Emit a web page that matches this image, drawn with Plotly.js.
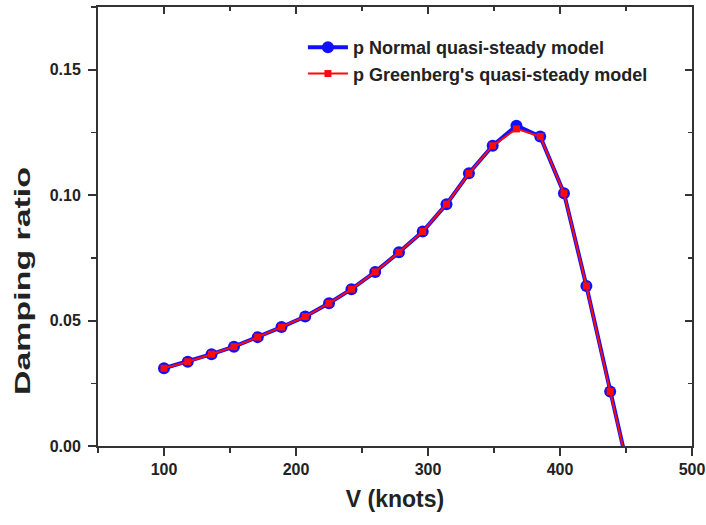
<!DOCTYPE html>
<html>
<head>
<meta charset="utf-8">
<script src="https://cdn.plot.ly/plotly-3.0.1.min.js"></script>
<style>
html,body{margin:0;padding:0;background:#fff;}
#chart{width:706px;height:525px;}
</style>
</head>
<body>
<div id="chart"></div>
<script>
// Speed (knots)
const V = [100, 118, 136, 153, 171, 189, 207, 225, 242, 260, 278, 296, 314, 331, 349, 367, 385, 403, 420, 438, 456];
// Damping ratio, normal quasi-steady model
const normalModel = [0.0310, 0.0336, 0.0366, 0.0396, 0.0434, 0.0474, 0.0516, 0.0569, 0.0625, 0.0694, 0.0772, 0.0855, 0.0964, 0.1087, 0.1197, 0.1277, 0.1234, 0.1008, 0.0638, 0.0217, -0.0194];
// Damping ratio, Greenberg's quasi-steady model
const greenbergModel = [0.0310, 0.0336, 0.0366, 0.0396, 0.0434, 0.0474, 0.0516, 0.0569, 0.0625, 0.0694, 0.0772, 0.0855, 0.0964, 0.1087, 0.1197, 0.1264, 0.1234, 0.1008, 0.0638, 0.0217, -0.0194];
const seriesNames = ["p Normal quasi-steady model", "p Greenberg's quasi-steady model"];
const xTitle = "V (knots)";
const yTitle = "Damping ratio";

const FONT = "Liberation Sans, Arial, sans-serif";
const AX = "#333333";

const traces = [
  {
    x: V, y: normalModel, name: seriesNames[0], type: 'scatter', mode: 'lines+markers',
    xaxis: 'x', yaxis: 'y',
    line: {color: '#1010ff', width: 4},
    marker: {symbol: 'circle', size: 12, color: '#1010ff'},
    legendgroup: 'a'
  },
  {
    x: V, y: greenbergModel, name: seriesNames[1], type: 'scatter', mode: 'lines+markers',
    xaxis: 'x2', yaxis: 'y2',
    line: {color: '#ff0a0a', width: 2},
    marker: {symbol: 'square', size: 7, color: '#ff0a0a'},
    legendgroup: 'b'
  }
];

const tickFont = {family: FONT, size: 16, color: '#222', weight: 'bold'};

const layout = {
  width: 706, height: 525,
  margin: {l: 98, r: 14, t: 7, b: 79},
  paper_bgcolor: '#fff', plot_bgcolor: '#fff',
  showlegend: true,
  legend: {
    x: 0.345, y: 0.95, xanchor: 'left', yanchor: 'top',
    bgcolor: 'rgba(0,0,0,0)', borderwidth: 0,
    font: {family: FONT, size: 18, color: '#222', weight: 'bold'},
    traceorder: 'grouped', tracegroupgap: 0, itemwidth: 40
  },
  xaxis: {
    range: [50, 500], tick0: 0, dtick: 100, fixedrange: true,
    showgrid: false, zeroline: false,
    showline: true, linecolor: AX, linewidth: 2, mirror: true,
    ticks: 'outside', ticklen: 8, tickwidth: 2, tickcolor: AX,
    minor: {ticks: 'outside', dtick: 50, tick0: 0, ticklen: 5, tickwidth: 1.5, tickcolor: AX, showgrid: false},
    tickfont: tickFont,
    title: {text: xTitle, font: {family: FONT, size: 23, color: '#222', weight: 'bold'}, standoff: 14}
  },
  yaxis: {
    range: [0, 0.175], tick0: 0, dtick: 0.05, tickformat: '.2f', fixedrange: true,
    showgrid: false, zeroline: false,
    showline: true, linecolor: AX, linewidth: 2, mirror: true,
    ticks: 'outside', ticklen: 8, tickwidth: 2, tickcolor: AX,
    minor: {ticks: 'outside', dtick: 0.025, tick0: 0, ticklen: 5, tickwidth: 1.5, tickcolor: AX, showgrid: false},
    tickfont: tickFont, ticklabelstandoff: 4,
    title: {text: ''}
  },
  xaxis2: {
    overlaying: 'x', side: 'top', anchor: 'y2',
    range: [50, 500], tick0: 0, dtick: 100, fixedrange: true,
    showgrid: false, zeroline: false, showline: false, showticklabels: false,
    ticks: 'inside', ticklen: 7, tickwidth: 2, tickcolor: AX,
    minor: {ticks: 'inside', dtick: 50, tick0: 0, ticklen: 4, tickwidth: 1.5, tickcolor: AX, showgrid: false}
  },
  yaxis2: {
    overlaying: 'y', side: 'right', anchor: 'x2',
    range: [0, 0.175], tick0: 0, dtick: 0.05, fixedrange: true,
    showgrid: false, zeroline: false, showline: false, showticklabels: false,
    ticks: 'inside', ticklen: 7, tickwidth: 2, tickcolor: AX,
    minor: {ticks: 'inside', dtick: 0.025, tick0: 0, ticklen: 4, tickwidth: 1.5, tickcolor: AX, showgrid: false}
  },
  annotations: [
    {
      text: yTitle, xref: 'paper', yref: 'paper', x: -0.127, y: 0.375,
      xanchor: 'center', yanchor: 'middle', textangle: -90, showarrow: false,
      font: {family: FONT, size: 22, color: '#222', weight: 'bold'}
    }
  ]
};

Plotly.newPlot('chart', traces, layout, {displayModeBar: false, staticPlot: true}).then(function (gd) {
  // The reference's y title is drawn stretched along its length; mimic that.
  const t = gd.querySelector('.annotation-text');
  if (t) {
    t.setAttribute('textLength', '228');
    t.setAttribute('lengthAdjust', 'spacingAndGlyphs');
  }
});
</script>
</body>
</html>
